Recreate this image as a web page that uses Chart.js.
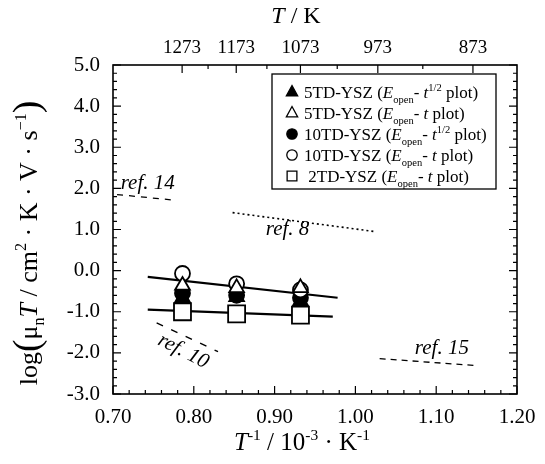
<!DOCTYPE html>
<html lang="en">
<head>
<meta charset="UTF-8">
<title>log(mu T) vs 1/T</title>
<script src="https://cdn.jsdelivr.net/npm/chart.js"></script>
<style>
  body { margin: 0; background: #fff; }
  #wrap { width: 545px; height: 464px; }
</style>
</head>
<body>
<div id="wrap"><canvas id="chart"></canvas></div>
<script>
// 1/T in 10^-3 K^-1 for 1273, 1173, 1073 K
const invT = [0.786, 0.853, 0.932];
const td5Sqrt  = [-0.66, -0.64, -0.74];  // filled triangles
const td5Lin   = [-0.36, -0.42, -0.42];  // open triangles
const td10Sqrt = [-0.55, -0.60, -0.66];  // filled circles
const td10Lin  = [-0.07, -0.32, -0.47];  // open circles
const td2Lin   = [-1.00, -1.05, -1.08];  // open squares

// fitted lines (end points)
const fitUpperX = [0.743, 0.978], fitUpperY = [-0.15, -0.66];
const fitLowerX = [0.743, 0.972], fitLowerY = [-0.95, -1.12];

// literature lines
const ref14X = [0.705, 0.773], ref14Y = [1.85, 1.72];
const ref8X  = [0.848, 1.024], ref8Y  = [1.41, 0.95];
const ref10X = [0.754, 0.830], ref10Y = [-1.27, -1.97];
const ref15X = [1.030, 1.150], ref15Y = [-2.14, -2.31];

// top axis temperatures
const tempLabels = [1273, 1173, 1073, 973, 873];
const tempMinor = [1223, 1123, 1023, 923];

const SERIF = '"Liberation Serif", "DejaVu Serif", serif';
const pts = (xs, ys) => xs.map((x, i) => ({ x: x, y: ys[i] }));

function marker(style, filled, r, order) {
  return {
    showLine: false,
    pointStyle: style,
    pointRadius: r,
    pointHoverRadius: r,
    pointBorderWidth: 1.8,
    pointBorderColor: '#000',
    pointBackgroundColor: filled ? '#000' : '#fff',
    order: order
  };
}
function line(dash, width, order) {
  return {
    showLine: true,
    borderColor: '#000',
    borderWidth: width,
    borderDash: dash,
    pointRadius: 0,
    fill: false,
    order: order
  };
}

// rich text helper: segments {t, i: italic, s: 'sub'|'sup', k: size factor}
function segFont(seg, size) {
  let sz = size * (seg.k || 1);
  if (seg.s) sz = size * 0.62;
  return (seg.i ? 'italic ' : '') + sz + 'px ' + SERIF;
}
function richWidth(ctx, segs, size) {
  let w = 0;
  segs.forEach(s => { ctx.font = segFont(s, size); w += ctx.measureText(s.t).width; });
  return w;
}
function drawRich(ctx, segs, x, y, size, align) {
  let cx = align === 'center' ? x - richWidth(ctx, segs, size) / 2 : x;
  ctx.textBaseline = 'alphabetic';
  ctx.textAlign = 'left';
  segs.forEach(s => {
    ctx.font = segFont(s, size);
    let dy = 0;
    if (s.s === 'sub') dy = size * 0.28;
    if (s.s === 'sup') dy = -size * 0.42;
    if (s.k) dy = size * 0.06;
    ctx.fillText(s.t, cx, y + dy);
    cx += ctx.measureText(s.t).width;
  });
}

function drawMark(ctx, style, filled, x, y, r) {
  ctx.beginPath();
  if (style === 'triangle') {
    ctx.moveTo(x, y - r);
    ctx.lineTo(x + r * 0.87, y + r * 0.6);
    ctx.lineTo(x - r * 0.87, y + r * 0.6);
    ctx.closePath();
  } else if (style === 'circle') {
    ctx.arc(x, y, r * 0.8, 0, Math.PI * 2);
  } else {
    ctx.rect(x - r * 0.75, y - r * 0.75, r * 1.5, r * 1.5);
  }
  ctx.fillStyle = filled ? '#000' : '#fff';
  ctx.fill();
  ctx.lineWidth = 1.3;
  ctx.strokeStyle = '#000';
  ctx.stroke();
}

const decor = {
  id: 'decor',
  beforeDatasetsDraw(chart) {
    const { ctx, chartArea: a, scales: { x, y } } = chart;
    ctx.save();
    ctx.strokeStyle = '#000';
    ctx.lineWidth = 1.6;
    ctx.strokeRect(a.left, a.top, a.right - a.left, a.bottom - a.top);
    ctx.lineWidth = 1.2;
    ctx.beginPath();
    // bottom ticks every 0.02
    for (let i = 0; i <= 25; i++) {
      const px = x.getPixelForValue(0.7 + i * 0.02);
      const len = i % 5 === 0 ? 8 : 4;
      ctx.moveTo(px, a.bottom); ctx.lineTo(px, a.bottom - len);
    }
    // top ticks at temperatures
    tempLabels.forEach(T => {
      const px = x.getPixelForValue(1000 / T);
      ctx.moveTo(px, a.top); ctx.lineTo(px, a.top + 8);
    });
    tempMinor.forEach(T => {
      const px = x.getPixelForValue(1000 / T);
      ctx.moveTo(px, a.top); ctx.lineTo(px, a.top + 4);
    });
    // left/right ticks every 0.2
    for (let i = 0; i <= 40; i++) {
      const py = y.getPixelForValue(-3 + i * 0.2);
      const len = i % 5 === 0 ? 8 : 4;
      ctx.moveTo(a.left, py); ctx.lineTo(a.left + len, py);
      ctx.moveTo(a.right, py); ctx.lineTo(a.right - len, py);
    }
    ctx.stroke();
    ctx.restore();
  },
  afterDraw(chart) {
    const { ctx, scales: { x, y } } = chart;
    ctx.save();
    ctx.fillStyle = '#000';

    // axis titles
    drawRich(ctx, [{ t: 'T', i: 1 }, { t: ' / K' }], 296, 23, 24, 'center');
    drawRich(ctx, [{ t: 'T', i: 1 }, { t: '-1', s: 'sup' }, { t: ' / 10' }, { t: '-3', s: 'sup' },
      { t: ' · K' }, { t: '-1', s: 'sup' }], 302, 450, 25, 'center');
    ctx.save();
    ctx.translate(37, 243);
    ctx.rotate(-Math.PI / 2);
    drawRich(ctx, [{ t: 'log' }, { t: '(', k: 1.45 }, { t: 'μ' }, { t: 'n', s: 'sub' }, { t: 'T', i: 1 },
      { t: ' / cm' }, { t: '2', s: 'sup' }, { t: ' · K · V · s' }, { t: '−1', s: 'sup' }, { t: ')', k: 1.45 }],
      0, 0, 26, 'center');
    ctx.restore();

    // reference labels
    ctx.font = 'italic 21px ' + SERIF;
    ctx.textAlign = 'center';
    ctx.textBaseline = 'middle';
    ctx.fillText('ref. 14', x.getPixelForValue(0.743), y.getPixelForValue(2.12));
    ctx.fillText('ref. 8', x.getPixelForValue(0.916), y.getPixelForValue(1.0));
    ctx.fillText('ref. 15', x.getPixelForValue(1.107), y.getPixelForValue(-1.9));
    ctx.save();
    ctx.translate(x.getPixelForValue(0.787), y.getPixelForValue(-1.96));
    ctx.rotate(27 * Math.PI / 180);
    ctx.fillText('ref. 10', 0, 0);
    ctx.restore();

    // legend box
    const bx = 272, by = 74, bw = 224, bh = 115;
    ctx.fillStyle = '#fff';
    ctx.fillRect(bx, by, bw, bh);
    ctx.strokeStyle = '#000';
    ctx.lineWidth = 1.3;
    ctx.strokeRect(bx, by, bw, bh);
    const rows = [
      ['triangle', true, '5TD-YSZ (', true],
      ['triangle', false, '5TD-YSZ (', false],
      ['circle', true, '10TD-YSZ (', true],
      ['circle', false, '10TD-YSZ (', false],
      ['rect', false, ' 2TD-YSZ (', false]
    ];
    rows.forEach((r, i) => {
      const ry = by + 19 + i * 21;
      drawMark(ctx, r[0], r[1], 292, ry - 1, 6.5);
      ctx.fillStyle = '#000';
      const segs = [{ t: r[2] }, { t: 'E', i: 1 }, { t: 'open', s: 'sub' }, { t: '- ' }, { t: 't', i: 1 }];
      if (r[3]) segs.push({ t: '1/2', s: 'sup' });
      segs.push({ t: ' plot)' });
      drawRich(ctx, segs, 304, ry + 5, 17, 'left');
    });
    ctx.restore();
  }
};

const tickFont = { family: SERIF, size: 21 };

new Chart(document.getElementById('chart'), {
  type: 'scatter',
  data: {
    datasets: [
      Object.assign({ label: '10TD-YSZ t', data: pts(invT, td10Lin) }, marker('circle', false, 7.5, 2)),
      Object.assign({ label: '5TD-YSZ t', data: pts(invT, td5Lin) }, marker('triangle', false, 8.5, 1)),
      Object.assign({ label: '5TD-YSZ t1/2', data: pts(invT, td5Sqrt) }, marker('triangle', true, 8.5, 3)),
      Object.assign({ label: '10TD-YSZ t1/2', data: pts(invT, td10Sqrt) }, marker('circle', true, 7.5, 4)),
      Object.assign({ label: '2TD-YSZ t', data: pts(invT, td2Lin) }, marker('rect', false, 12, 5)),
      Object.assign({ label: 'fit upper', data: pts(fitUpperX, fitUpperY) }, line([], 2.2, 6)),
      Object.assign({ label: 'fit lower', data: pts(fitLowerX, fitLowerY) }, line([], 2.2, 6)),
      Object.assign({ label: 'ref. 14', data: pts(ref14X, ref14Y) }, line([6, 6], 1.3, 7)),
      Object.assign({ label: 'ref. 8', data: pts(ref8X, ref8Y) }, line([2, 3], 1.6, 7)),
      Object.assign({ label: 'ref. 10', data: pts(ref10X, ref10Y) }, line([7, 9], 1.4, 7)),
      Object.assign({ label: 'ref. 15', data: pts(ref15X, ref15Y) }, line([6, 5], 1.3, 7))
    ]
  },
  options: {
    responsive: true,
    maintainAspectRatio: false,
    animation: false,
    layout: { padding: { left: 0, right: 28, top: 0, bottom: 0 } },
    plugins: { legend: { display: false }, tooltip: { enabled: false } },
    scales: {
      x: {
        type: 'linear', position: 'bottom', min: 0.7, max: 1.2,
        ticks: { stepSize: 0.1, color: '#000', font: tickFont, padding: 3, maxRotation: 0, autoSkip: false,
          callback: v => v.toFixed(2) },
        grid: { display: false }, border: { display: false },
        afterFit: s => { s.height = 70; }
      },
      xTop: {
        type: 'linear', position: 'top', min: 0.7, max: 1.2,
        afterBuildTicks: s => { s.ticks = tempLabels.map(T => ({ value: 1000 / T })); },
        ticks: { color: '#000', font: { family: SERIF, size: 19 }, padding: -2, maxRotation: 0, autoSkip: false,
          callback: v => String(Math.round(1000 / v)) },
        grid: { display: false }, border: { display: false },
        afterFit: s => { s.height = 65; }
      },
      y: {
        type: 'linear', min: -3, max: 5,
        ticks: { stepSize: 1, color: '#000', font: tickFont, padding: 5, callback: v => v.toFixed(1) },
        grid: { display: false }, border: { display: false },
        afterFit: s => { s.width = 113; }
      }
    }
  },
  plugins: [decor]
});
</script>
</body>
</html>
